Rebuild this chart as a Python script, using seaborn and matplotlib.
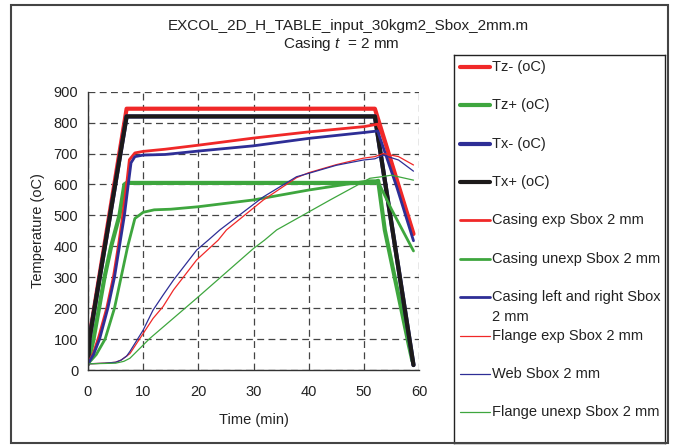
import matplotlib
matplotlib.use("Agg")
import matplotlib.pyplot as plt
from matplotlib.patches import Rectangle
import seaborn as sns

# boundary gas temperatures
t_tz_minus = [0, 0.2, 7, 52, 59]
tz_minus = [20, 100, 845, 845, 440]
t_tz_plus = [0, 1.0, 2.0, 3.0, 4.2, 5.7, 6.6, 7.0, 52, 52.6, 53.8, 58.1, 58.8]
tz_plus = [20, 100, 200, 300, 400, 500, 600, 605, 605, 612, 453, 86, 30]
t_tx = [0, 0.25, 7, 52, 59]
tx_minus = [20, 100, 820, 820, 16]
tx_plus = [20, 100, 820, 820, 16]

# casing temperatures
t_cas_exp = [0, 1, 2, 3.4, 4.6, 5.5, 6.3, 7, 7.5, 8.5, 10, 14, 20, 30, 40, 50, 52.5, 54, 56, 59]
cas_exp = [20, 55, 110, 200, 300, 400, 500, 600, 680, 702, 707, 714, 727, 750, 770, 787, 795, 730, 613, 440]
t_cas_unexp = [0, 1.5, 3.1, 4.8, 6.0, 7.2, 8.5, 10, 12, 15, 20, 30, 40, 51, 52.5, 55, 59]
cas_unexp = [20, 50, 100, 200, 300, 400, 490, 510, 518, 520, 528, 550, 582, 612, 612, 520, 385]
t_cas_lr = [0, 1, 2.1, 3.6, 4.8, 5.7, 6.6, 7.3, 7.8, 8.5, 10, 14, 20, 30, 40, 50, 52.5, 56, 59]
cas_lr = [20, 50, 100, 200, 300, 400, 500, 600, 670, 690, 695, 697, 708, 725, 749, 768, 773, 590, 418]

# steel section temperatures
t_fl_exp = [0, 3, 5, 6, 7, 7.6, 10, 11.8, 13.6, 15.5, 19.7, 23.6, 25.1, 31.8, 37.8, 40, 45, 49.9, 52, 53.5, 56.3, 59]
fl_exp = [20, 22, 25, 32, 45, 53, 118, 167, 205, 259, 356, 420, 453, 550, 622, 638, 664, 685, 690, 700, 690, 663]
t_web = [0, 3, 5, 6, 7, 7.6, 10, 11.8, 13.6, 15.5, 19.7, 21.8, 23.9, 31.8, 37.8, 40, 45, 49.9, 52, 53.5, 56.3, 59]
web = [20, 22, 25, 32, 45, 60, 129, 194, 242, 291, 388, 420, 453, 560, 625, 636, 662, 679, 683, 695, 679, 643]
t_fl_unexp = [0, 5, 6.5, 7.6, 11.2, 19.7, 30, 32, 34.2, 43.9, 51.1, 53.2, 55, 59]
fl_unexp = [20, 22, 28, 38, 102, 232, 393, 420, 453, 550, 620, 625, 630, 614]

RED = "#f02828"
GREEN = "#3ea63e"
BLUE = "#2e2e96"
BLACK = "#1c1a1a"

series = [
    ("Tz- (oC)", t_tz_minus, tz_minus, RED, 3.0),
    ("Tz+ (oC)", t_tz_plus, tz_plus, GREEN, 3.0),
    ("Tx- (oC)", t_tx, tx_minus, BLUE, 3.0),
    ("Tx+ (oC)", t_tx, tx_plus, BLACK, 3.0),
    ("Casing exp Sbox 2 mm", t_cas_exp, cas_exp, RED, 2.0),
    ("Casing unexp Sbox 2 mm", t_cas_unexp, cas_unexp, GREEN, 2.0),
    ("Casing left and right Sbox\n2 mm", t_cas_lr, cas_lr, BLUE, 2.0),
    ("Flange exp Sbox 2 mm", t_fl_exp, fl_exp, RED, 0.9),
    ("Web Sbox 2 mm", t_web, web, BLUE, 0.9),
    ("Flange unexp Sbox 2 mm", t_fl_unexp, fl_unexp, GREEN, 0.9),
]

sns.set_style("white")
plt.rcParams['font.family'] = ['Liberation Sans', 'DejaVu Sans']
plt.rcParams['mathtext.fontset'] = 'custom'
plt.rcParams['mathtext.rm'] = 'Liberation Sans'
plt.rcParams['mathtext.it'] = 'Liberation Sans:italic'

W, H = 677, 445
FS = 10.5
TXT = "#222222"


def fx(px):
    return px / W


def fy(py):
    return 1 - py / H


fig = plt.figure(figsize=(W / 100, H / 100), dpi=100)
fig.patches.append(Rectangle((fx(11), fy(443)), fx(657), 438 / H, transform=fig.transFigure,
                             fill=False, edgecolor="#444444", lw=1.5))

ax = fig.add_axes([fx(88), fy(370), fx(331), 278.3 / H])
for lab, t, v, c, lw in series:
    sns.lineplot(x=t, y=v, ax=ax, color=c, lw=lw, sort=False, estimator=None, legend=False)

ax.set_xlim(0, 60)
ax.set_ylim(0, 900)
ax.set_xticks(range(0, 61, 10))
ax.set_yticks(range(0, 901, 100))
ax.grid(True, linestyle=(0, (5.5, 3.5)), color="#444444", lw=0.9)
ax.set_axisbelow(True)
for s in ("top", "right"):
    ax.spines[s].set_visible(False)
for s in ("left", "bottom"):
    ax.spines[s].set_color("#333333")
    ax.spines[s].set_linewidth(1.0)
ax.tick_params(direction="out", length=4, width=1, color="#333333", labelsize=FS,
               labelcolor=TXT, pad=3)
ax.tick_params(axis="x", pad=7)
ax.set_xlabel("Time (min)", fontsize=FS, color=TXT, labelpad=10)
ax.set_ylabel("Temperature (oC)", fontsize=FS, color=TXT, labelpad=6)

fig.text(fx(348), fy(26), "EXCOL_2D_H_TABLE_input_30kgm2_Sbox_2mm.m", ha="center", va="center",
         fontsize=11, color=TXT)
fig.text(fx(341), fy(44), "Casing $t$  = 2 mm", ha="center", va="center", fontsize=11, color=TXT)

# legend box
lx0, lx1, ly0, ly1 = 454, 665, 55, 443
leg = fig.add_axes([fx(lx0), fy(ly1), (lx1 - lx0) / W, (ly1 - ly0) / H])
leg.set_xlim(lx0, lx1)
leg.set_ylim(ly1, ly0)
leg.set_xticks([])
leg.set_yticks([])
for s in leg.spines.values():
    s.set_color(TXT)
    s.set_linewidth(1.0)
for i, (lab, t, v, c, lw) in enumerate(series):
    yy = 66.7 + i * 38.4
    leg.plot([460, 490], [yy, yy], color=c, lw=lw)
    for j, part in enumerate(lab.split("\n")):
        leg.text(492, yy + j * 19.5, part, ha="left", va="center", fontsize=FS, color=TXT)

fig.savefig("out.png", dpi=100)
